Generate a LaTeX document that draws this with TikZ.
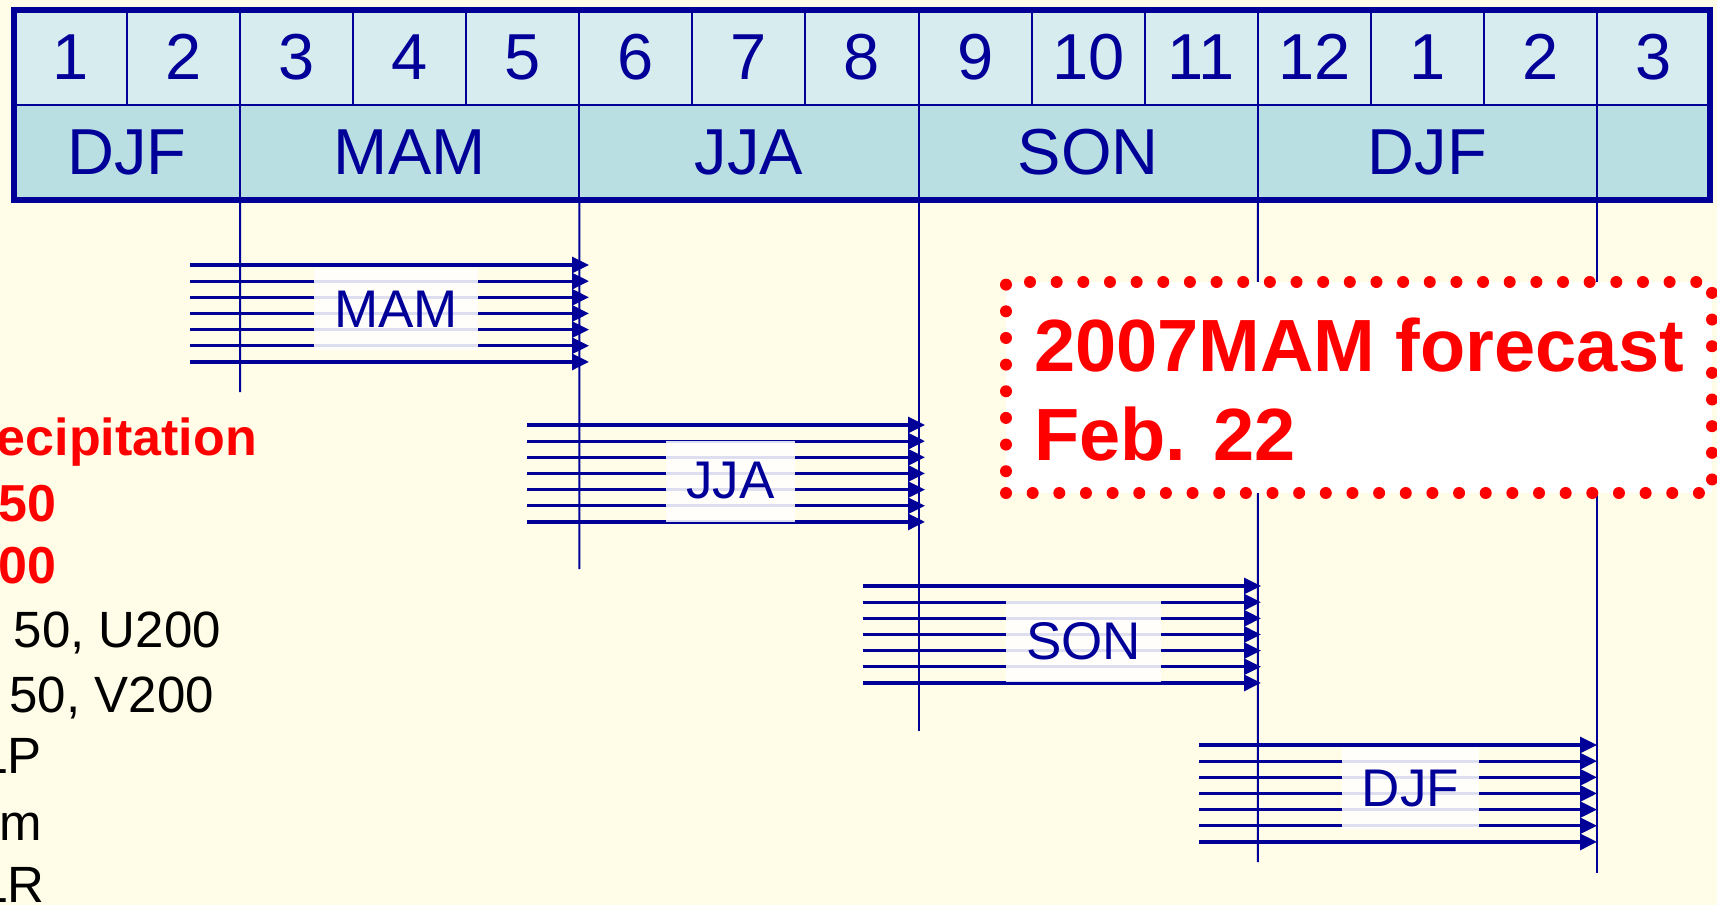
\documentclass[tikz,border=0pt]{standalone}
\usepackage{fontspec}
\setmainfont{Liberation Sans}
\usetikzlibrary{arrows.meta}
\definecolor{bg}{RGB}{255,253,231}
\definecolor{navy}{RGB}{0,0,153}
\definecolor{rowA}{RGB}{214,236,239}
\definecolor{rowB}{RGB}{185,223,227}
\definecolor{fred}{RGB}{255,0,0}
\tikzset{
  mcell/.style={draw=navy, line width=2pt, fill=rowA, minimum width=113.07pt, minimum height=95.5pt,
    inner sep=0pt, outer sep=0pt, anchor=north west, text=navy, font=\fontsize{65}{78}\selectfont},
  scell/.style={mcell, fill=rowB, minimum height=95pt},
  vline/.style={draw=navy, line width=2pt},
  flow/.style={draw=navy, line width=3.3pt, -{Triangle[length=17pt,width=16pt]}},
  glabel/.style={fill=white, fill opacity=0.87, text opacity=1, text=navy, inner xsep=20pt, inner ysep=0pt,
    minimum height=81pt, font=\fontsize{53}{60}\selectfont},
  redlbl/.style={text=fred, inner sep=0pt, anchor=base east, font=\fontsize{52}{62}\selectfont\bfseries},
  blklbl/.style={text=black, inner sep=0pt, anchor=base east, font=\fontsize{51}{62}\selectfont},
  fbox/.style={draw=fred, fill=white, line width=12pt, dash pattern=on 0pt off 26.65pt, line cap=round,
    minimum width=706pt, minimum height=211pt, inner sep=0pt, outer sep=0pt, anchor=north west},
  ftext/.style={text=fred, inner sep=0pt, anchor=base west, font=\fontsize{74}{89}\selectfont\bfseries}
}
\begin{document}
\begin{tikzpicture}[x=1pt,y=-1pt]
\useasboundingbox (0,0) rectangle (1717,905);
\fill[bg] (0,0) rectangle (1717,905);

% month row
\foreach \i/\t in {0/1,1/2,2/3,3/4,4/5,5/6,6/7,7/8,8/9,9/10,10/11,11/12,12/1,13/2,14/3}
  \node[mcell] (m\i) at ({14+\i*113.07},9.5) {\t};
% season row
\node[scell, minimum width=226.14pt] (s1) at (14,105) {DJF};
\node[scell, minimum width=339.21pt] (s2) at (240.14,105) {MAM};
\node[scell, minimum width=339.21pt] (s3) at (579.35,105) {JJA};
\node[scell, minimum width=339.21pt] (s4) at (918.56,105) {SON};
\node[scell, minimum width=339.21pt] (s5) at (1257.77,105) {DJF};
\node[scell, minimum width=113.07pt] (s6) at (1596.98,105) {};
\draw[navy, line width=6pt] (m0.north west) rectangle (s6.south east);

% vertical guide lines
\coordinate (v2) at (240.14,392);
\coordinate (v5) at (579.35,569);
\coordinate (v8) at (918.56,731);
\coordinate (v11) at (1257.77,862);
\coordinate (v14) at (1596.98,873);
\draw[vline] (s1.south east) -- (v2);
\draw[vline] (s2.south east) -- (v5);
\draw[vline] (s3.south east) -- (v8);
\draw[vline] (s4.south east) -- (v11);
\draw[vline] (s5.south east) -- (v14);

% arrow groups
\foreach \g/\sx/\ex/\ty in {A/190/589/265, B/527/925/425, C/863/1261/586, D/1199/1597/745}{
  \foreach \k in {0,...,6}{
    \coordinate (\g s\k) at (\sx,{\ty+\k*16.15});
    \coordinate (\g e\k) at (\ex,{\ty+\k*16.15});
    \draw[flow] (\g s\k) -- (\g e\k);
  }
}
\node[glabel] (lA) at (396,309.5) {MAM};
\node[glabel] (lB) at (730.5,481) {JJA};
\node[glabel] (lC) at (1083.5,641) {SON};
\node[glabel] (lD) at (1410.5,788.5) {DJF};

% left variable list
\node[redlbl] (t1) at (257,455) {ecipitation};
\node[redlbl] (t2) at (57,521) {50};
\node[redlbl] (t3) at (57,583) {00};
\node[blklbl] (t4) at (221,647) {50, U200};
\node[blklbl] (t5) at (214,712) {50, V200};
\node[blklbl] (t6) at (42,773) {LP};
\node[blklbl] (t7) at (42,840) {m};
\node[blklbl] (t8) at (45,902) {LR};

% forecast box
\node[fbox] (fb) at (1006,282) {};
\node[ftext] (f1) at (1034,371) {2007MAM forecast};
\node[ftext] (f2) at (1034,460) {Feb. 22};
\end{tikzpicture}
\end{document}
